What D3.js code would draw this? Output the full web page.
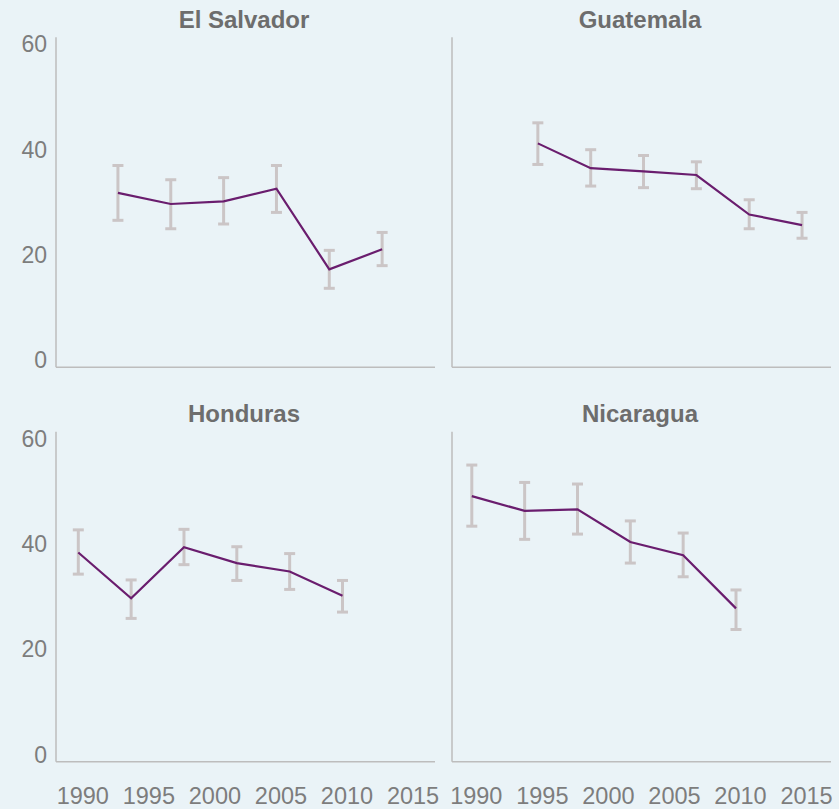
<!DOCTYPE html>
<html>
<head>
<meta charset="utf-8">
<script src="https://cdn.jsdelivr.net/npm/d3@7"></script>
<style>
  html, body { margin: 0; padding: 0; background: #EAF3F7; }
  svg { display: block; }
</style>
</head>
<body>
<svg id="chart" width="839" height="809"></svg>
<script>
// ---- Data ----
const countries = ["El Salvador", "Guatemala", "Honduras", "Nicaragua"];

const yearsElSalvador = [1993, 1997, 2001, 2005, 2009, 2013];
const valuesElSalvador = [31.8, 29.7, 30.2, 32.6, 17.3, 21.1];
const lowElSalvador   = [26.6, 25.0, 25.9, 28.1, 13.7, 18.0];
const highElSalvador  = [37.0, 34.3, 34.7, 37.0, 20.9, 24.3];

const yearsGuatemala = [1995, 1999, 2003, 2007, 2011, 2015];
const valuesGuatemala = [41.2, 36.5, 35.9, 35.2, 27.7, 25.7];
const lowGuatemala   = [37.2, 33.1, 32.8, 32.6, 25.0, 23.2];
const highGuatemala  = [45.1, 40.0, 38.9, 37.7, 30.5, 28.1];

const yearsHonduras = [1990, 1994, 1998, 2002, 2006, 2010];
const valuesHonduras = [38.4, 29.7, 39.4, 36.4, 34.8, 30.2];
const lowHonduras   = [34.3, 25.9, 36.1, 33.1, 31.4, 27.1];
const highHonduras  = [42.7, 33.2, 42.8, 39.5, 38.2, 33.1];

const yearsNicaragua = [1990, 1994, 1998, 2002, 2006, 2010];
const valuesNicaragua = [49.1, 46.3, 46.6, 40.4, 37.9, 27.8];
const lowNicaragua   = [43.4, 40.9, 41.9, 36.4, 33.8, 23.8];
const highNicaragua  = [55.0, 51.7, 51.4, 44.4, 42.1, 31.3];

const xTicks = [1990, 1995, 2000, 2005, 2010, 2015];
const yTicks = [0, 20, 40, 60];

// ---- Build panel table from arrays ----
const seriesTable = [
  {name: countries[0], years: yearsElSalvador, v: valuesElSalvador, lo: lowElSalvador, hi: highElSalvador},
  {name: countries[1], years: yearsGuatemala, v: valuesGuatemala, lo: lowGuatemala, hi: highGuatemala},
  {name: countries[2], years: yearsHonduras, v: valuesHonduras, lo: lowHonduras, hi: highHonduras},
  {name: countries[3], years: yearsNicaragua, v: valuesNicaragua, lo: lowNicaragua, hi: highNicaragua}
];

// ---- Layout ----
const colAxisX = [56, 452];
const colOffset = [22.3, 19.8];
const rowAxisTop = [37.3, 431.7];
const axisH = 330, axisW = 379;
const perYear = 13.21;

const FONT = "'Liberation Sans', Arial, Helvetica, sans-serif";
const svg = d3.select("#chart");

svg.append("rect").attr("width", 839).attr("height", 809).attr("fill", "#EAF3F7");

seriesTable.forEach((s, i) => {
  const col = i % 2, row = Math.floor(i / 2);
  const ax = colAxisX[col];
  const top = rowAxisTop[row];
  const bottom = top + axisH;

  const x = d3.scaleLinear()
    .domain([1990, 2015])
    .range([ax + colOffset[col], ax + colOffset[col] + 25 * perYear]);
  const y = d3.scaleLinear()
    .domain([0, 60])
    .range([bottom - 6.8, top + 7]);

  const g = svg.append("g");

  // title
  g.append("text")
    .attr("x", ax + axisW / 2 - 1.5)
    .attr("y", top - 9.5)
    .attr("text-anchor", "middle")
    .attr("font-family", FONT)
    .attr("font-weight", "bold")
    .attr("font-size", 24)
    .attr("fill", "#6d6d6d")
    .text(s.name);

  // axis lines
  g.append("line")
    .attr("x1", ax).attr("x2", ax).attr("y1", top).attr("y2", bottom)
    .attr("stroke", "#bdbdbd").attr("stroke-width", 1.5);
  g.append("line")
    .attr("x1", ax).attr("x2", ax + axisW).attr("y1", bottom).attr("y2", bottom)
    .attr("stroke", "#bdbdbd").attr("stroke-width", 1.5);

  // y axis labels (left column only)
  if (col === 0) {
    const yAxis = d3.axisLeft(y).tickValues(yTicks).tickSize(0).tickPadding(9);
    const ya = g.append("g").attr("transform", `translate(${ax},0)`).call(yAxis);
    ya.select(".domain").remove();
    ya.selectAll("text")
      .attr("font-family", FONT)
      .attr("font-size", 23)
      .attr("fill", "#7d7d7d");
  }

  // x axis labels (bottom row only)
  if (row === 1) {
    const xAxis = d3.axisBottom(x).tickValues(xTicks).tickFormat(d3.format("d")).tickSize(0).tickPadding(0);
    const xa = g.append("g").attr("transform", `translate(0,${bottom})`).call(xAxis);
    xa.select(".domain").remove();
    xa.selectAll("text")
      .attr("font-family", FONT)
      .attr("font-size", 23.5)
      .attr("fill", "#7d7d7d")
      .attr("dx", 4)
      .attr("dy", 0)
      .attr("y", 42.3);
  }

  const pts = s.years.map((yr, k) => ({yr, v: s.v[k], lo: s.lo[k], hi: s.hi[k]}));

  // error bars
  const eb = g.append("g").attr("stroke", "#cbc5c6").attr("stroke-width", 3).attr("fill", "none");
  pts.forEach(p => {
    eb.append("line").attr("x1", x(p.yr)).attr("x2", x(p.yr)).attr("y1", y(p.hi)).attr("y2", y(p.lo));
    eb.append("line").attr("x1", x(p.yr) - 5.5).attr("x2", x(p.yr) + 5.5).attr("y1", y(p.hi)).attr("y2", y(p.hi));
    eb.append("line").attr("x1", x(p.yr) - 5.5).attr("x2", x(p.yr) + 5.5).attr("y1", y(p.lo)).attr("y2", y(p.lo));
  });

  // line
  g.append("path")
    .datum(pts)
    .attr("fill", "none")
    .attr("stroke", "#6a1d6e")
    .attr("stroke-width", 2.2)
    .attr("d", d3.line().x(d => x(d.yr)).y(d => y(d.v)));
});
</script>
</body>
</html>
